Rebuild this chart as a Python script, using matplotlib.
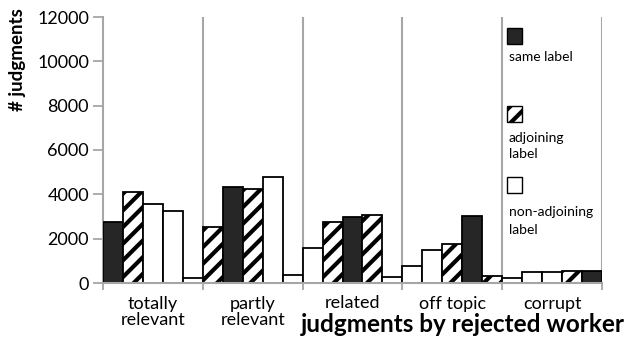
import numpy as np
import matplotlib.pyplot as plt
from matplotlib.patches import Rectangle

# categories of the rejected worker's judgment (groups on the x axis)
groups = ["totally\nrelevant", "partly\nrelevant", "related", "off topic", "corrupt"]

# number of judgments per group, one value per other-worker label
# (order: totally relevant, partly relevant, related, off topic, corrupt)
tr_vals = [2750, 4100, 3560, 3240, 240]
pr_vals = [2540, 4340, 4220, 4760, 360]
rel_vals = [1580, 2750, 2970, 3060, 270]
off_vals = [770, 1490, 1760, 3020, 315]
cor_vals = [240, 510, 510, 530, 530]

legend_labels = ["same label", "adjoining\nlabel", "non-adjoining\nlabel"]

plt.rcParams['font.family'] = ['Lato', 'DejaVu Sans']
plt.rcParams['hatch.linewidth'] = 3.0

W, H = 642, 340
fig = plt.figure(figsize=(W / 100, H / 100), dpi=100)
ax = fig.add_axes([103 / W, (H - 283) / H, (602 - 103) / W, (283 - 17) / H])

dark = '#262626'
gray = '#a6a6a6'

def bar_style(dist):
    # 0 -> same label, 1 -> adjoining label, else non-adjoining
    if dist == 0:
        return dict(color=dark, hatch=None)
    if dist == 1:
        return dict(color='white', hatch='//')
    return dict(color='white', hatch=None)

data = [tr_vals, pr_vals, rel_vals, off_vals, cor_vals]
bw = 0.2
for g, vals in enumerate(data):
    for j, v in enumerate(vals):
        st = bar_style(abs(g - j))
        ax.bar(g + (j - 2) * bw, v, width=bw, facecolor=st['color'],
               edgecolor='black', linewidth=1.3, hatch=st['hatch'], zorder=3)

# vertical separators between groups
for b in np.arange(0.5, 5, 1.0):
    ax.axvline(b, color=gray, linewidth=1.5, zorder=1)

ax.set_xlim(-0.5, 4.5)
ax.set_ylim(0, 12000)
ax.set_yticks(np.arange(0, 12001, 2000))
ax.set_xticks(range(5))
ax.set_xticklabels(groups, fontsize=13, linespacing=1.05)
ax.set_xticks(np.arange(-0.5, 5, 1.0), minor=True)
ax.tick_params(axis='x', which='major', length=0, pad=9)
ax.tick_params(axis='x', which='minor', length=5, width=1.3, color=gray)
ax.tick_params(axis='y', length=7, width=1.3, color=gray, labelsize=13, pad=3)

for s in ['top', 'right']:
    ax.spines[s].set_visible(False)
for s in ['left', 'bottom']:
    ax.spines[s].set_color(gray)
    ax.spines[s].set_linewidth(1.5)
ax.spines['bottom'].set_zorder(4)

fig.text(18 / W, (H - 60) / H, '# judgments', rotation=90, fontsize=13.5,
         fontweight='bold', ha='center', va='center')
fig.text(463 / W, (H - 325) / H, 'judgments by rejected worker', fontsize=17.5,
         fontweight='bold', ha='center', va='center')

# legend drawn by hand in the right-hand panel
leg_items = [(28, legend_labels[0], dict(facecolor=dark, hatch=None), 57),
             (106, legend_labels[1], dict(facecolor='white', hatch='//'), 146),
             (177, legend_labels[2], dict(facecolor='white', hatch=None), 221)]
for top, lab, st, ty in leg_items:
    fig.add_artist(Rectangle((507 / W, (H - top - 16) / H), 15 / W, 16 / H,
                             transform=fig.transFigure, edgecolor='black',
                             linewidth=1.0, **st))
    fig.text(509 / W, (H - ty) / H, lab, fontsize=10, ha='left', va='center',
             linespacing=1.5)

fig.savefig('out.png', dpi=100)
